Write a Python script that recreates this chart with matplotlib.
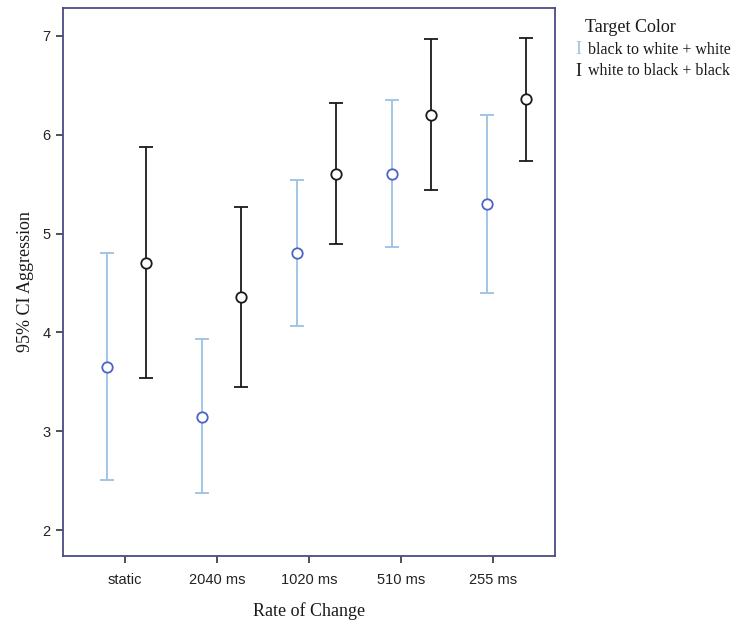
import matplotlib
matplotlib.use("Agg")
import matplotlib.pyplot as plt
import numpy as np

categories = ["static", "2040 ms", "1020 ms", "510 ms", "255 ms"]
white_mean = [3.65, 3.15, 4.80, 5.60, 5.30]
white_upper = [4.80, 3.93, 5.54, 6.35, 6.20]
white_lower = [2.51, 2.38, 4.07, 4.86, 4.40]
black_mean = [4.70, 4.36, 5.60, 6.20, 6.36]
black_upper = [5.87, 5.27, 6.32, 6.97, 6.98]
black_lower = [3.54, 3.45, 4.89, 5.44, 5.73]
series_labels = ["black to white + white", "white to black + black"]
yticks = [2, 3, 4, 5, 6, 7]

fig = plt.figure(figsize=(7.52, 6.26), dpi=100)
ax = fig.add_axes([63/752, 70/626, (555-63)/752, (556-8)/626])

x = np.arange(len(categories))
centers = 0.02 + x * 1.0315
frame = "#4b4b85"
lightblue = "#9cc2e5"
markblue = "#4b63c4"
dark = "#1a1a1a"

def draw(xpos, mean, lo, hi, ecol, mcol):
    mean = np.array(mean); lo = np.array(lo); hi = np.array(hi)
    ax.errorbar(xpos, mean, yerr=[mean - lo, hi - mean], fmt='none',
                ecolor=ecol, elinewidth=1.3, capsize=5, capthick=1.3, zorder=2)
    ax.plot(xpos, mean, 'o', mfc='white', mec=mcol, mew=1.3, ms=7.5, zorder=3, ls='none')

draw(centers - 0.213, white_mean, white_lower, white_upper, lightblue, markblue)
draw(centers + 0.213, black_mean, black_lower, black_upper, dark, dark)

ax.set_xlim(-0.67, 4.67)
ax.set_ylim(1.74, 7.28)
ax.set_xticks(x)
ax.set_xticklabels(categories, fontfamily="Liberation Sans", fontsize=10.5, color="#222222")
ax.set_yticks(yticks)
ax.set_yticklabels([str(v) for v in yticks], fontfamily="Liberation Sans", fontsize=10.5, color="#222222")
ax.tick_params(axis='both', length=5, width=1.2, color="#333333")
ax.tick_params(axis='y', pad=4)
ax.tick_params(axis='x', pad=7)
for s in ax.spines.values():
    s.set_color(frame)
    s.set_linewidth(1.3)

ax.set_xlabel("Rate of Change", fontfamily="Liberation Serif", fontsize=13, color="#1a1a1a", labelpad=11)
ax.set_ylabel("95% CI Aggression", fontfamily="Liberation Serif", fontsize=13, color="#1a1a1a", labelpad=6)

fig.text(585/752, 1 - 28/626, "Target Color", fontfamily="Liberation Serif", fontsize=13,
         color="#1a1a1a", va="center", ha="left")
fig.text(575/752, 1 - 50/626, "I", fontfamily="Liberation Serif", fontsize=13,
         color=lightblue, va="center", ha="left")
fig.text(588/752, 1 - 50/626, series_labels[0], fontfamily="Liberation Serif", fontsize=11.5,
         color="#1a1a1a", va="center", ha="left")
fig.text(575/752, 1 - 71/626, "I", fontfamily="Liberation Serif", fontsize=13,
         color=dark, va="center", ha="left")
fig.text(588/752, 1 - 71/626, series_labels[1], fontfamily="Liberation Serif", fontsize=11.5,
         color="#1a1a1a", va="center", ha="left")

fig.savefig("out.png", dpi=100)
